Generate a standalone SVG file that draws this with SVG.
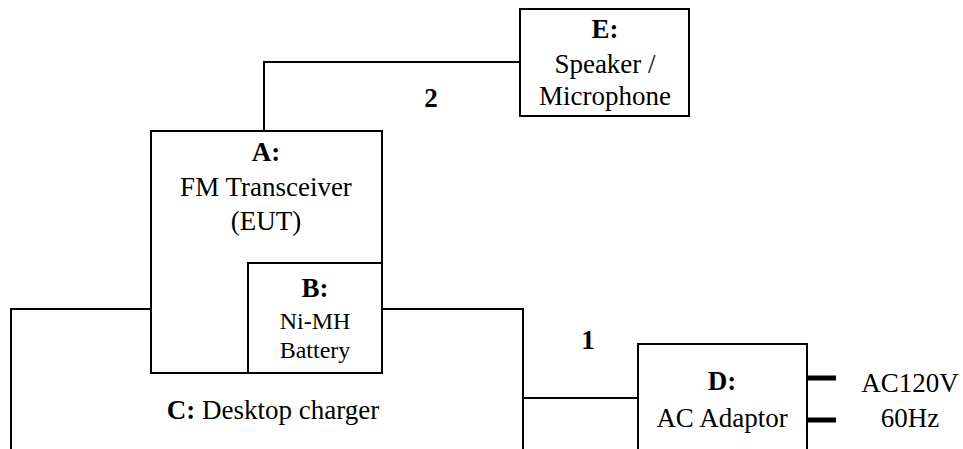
<svg xmlns="http://www.w3.org/2000/svg" width="963" height="449" viewBox="0 0 963 449" font-family="'Liberation Serif', Tinos, 'DejaVu Serif', serif">
<style>
.box{fill:#fff;stroke:#000;stroke-width:2}
.ln{fill:none;stroke:#000;stroke-width:2}
.stub{fill:none;stroke:#000;stroke-width:5}
text{font-family:"Liberation Serif",Tinos,"DejaVu Serif",serif;fill:#000;text-anchor:middle;font-size:27px}
.b{font-weight:bold}
.sm{font-size:24px}
</style>
<g id="connectors">
<polyline class="ln" points="264,131 264,62 521,62"/>
<polyline class="ln" points="11,449 11,309 151,309"/>
<polyline class="ln" points="382,309 523,309 523,449"/>
<line class="ln" x1="523" y1="398" x2="638" y2="398"/>
<line class="stub" x1="807" y1="378" x2="836" y2="378"/>
<line class="stub" x1="807" y1="420" x2="836" y2="420"/>
<text class="b" x="431" y="107">2</text>
<text class="b" x="588" y="349">1</text>
</g>
<g id="E">
<rect class="box" x="520" y="9" width="169" height="107"/>
<text class="b" x="605" y="38">E:</text>
<text x="605" y="73">Speaker /</text>
<text x="605" y="105">Microphone</text>
</g>
<g id="A">
<rect class="box" x="151" y="131" width="231" height="242"/>
<text class="b" x="266" y="161">A:</text>
<text x="266" y="196">FM Transceiver</text>
<text x="266" y="230">(EUT)</text>
</g>
<g id="B">
<rect class="box" x="248" y="263" width="134" height="110"/>
<text class="b" x="315" y="297">B:</text>
<text class="sm" x="315" y="329">Ni-MH</text>
<text class="sm" x="315" y="358">Battery</text>
</g>
<g id="C">
<text x="273" y="419"><tspan class="b">C:</tspan> Desktop charger</text>
</g>
<g id="D">
<rect class="box" x="638" y="344" width="169" height="120"/>
<text class="b" x="722" y="390">D:</text>
<text x="722" y="427">AC Adaptor</text>
</g>
<g id="power">
<text x="910" y="392">AC120V</text>
<text x="910" y="427">60Hz</text>
</g>
</svg>
